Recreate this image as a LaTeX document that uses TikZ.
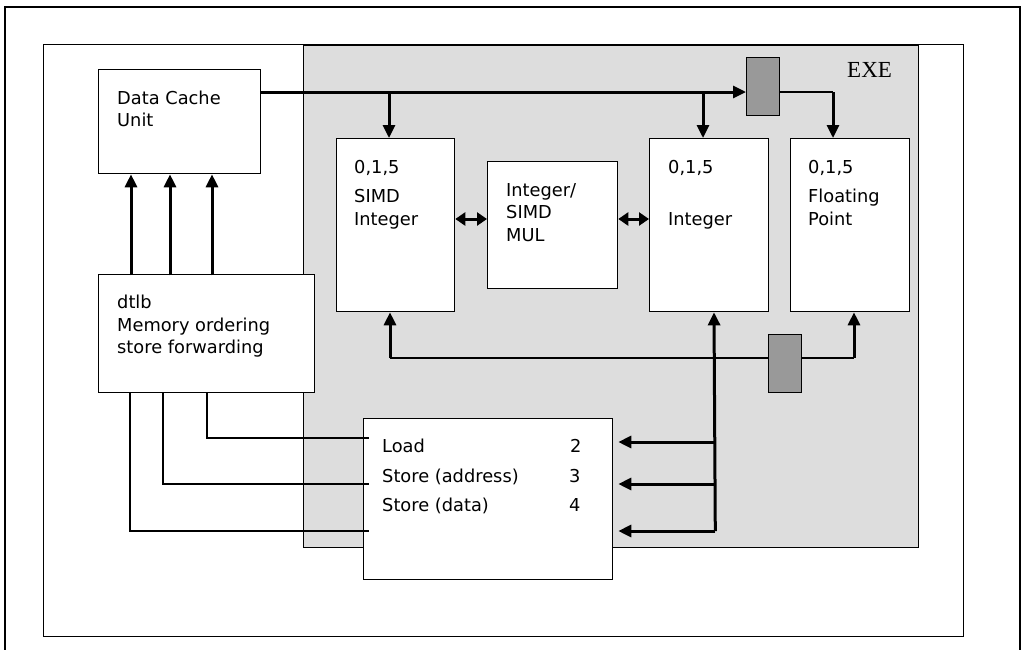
\documentclass[tikz,border=0pt]{standalone}
\usepackage{fontspec}
\setmainfont{DejaVu Sans}
\newfontfamily\exefont{Liberation Serif}
\usetikzlibrary{arrows.meta,calc}
\definecolor{exegray}{HTML}{DDDDDD}
\definecolor{reggray}{HTML}{999999}
\begin{document}
\begin{tikzpicture}[x=1pt,y=-1pt,
  box/.style={draw, fill=white, line width=1.3pt, rectangle, inner sep=0pt, anchor=north west},
  regbox/.style={draw, fill=reggray, line width=1.3pt, rectangle, inner sep=0pt, anchor=north west},
  thinln/.style={line width=1.4pt},
  thickln/.style={line width=3pt},
  arr/.style={-{Triangle[length=13pt,width=12pt]}},
  darr/.style={{Triangle[length=10pt,width=13pt]}-{Triangle[length=10pt,width=13pt]}},
  lbl/.style={anchor=base west, inner sep=0pt, font=\fontsize{17.8}{20}\selectfont},
]
\fill[white] (0,0) rectangle (1023,649);
\useasboundingbox (0,0) rectangle (1023,649);
% outer frame
\draw[line width=2.4pt] (5,652) -- (5,7) -- (1020,7) -- (1020,652);
% inner frame and EXE area
\node[box, minimum width=920pt, minimum height=592pt] (inner) at (43,44) {};
\node[box, fill=exegray, minimum width=615pt, minimum height=502pt] (exe) at (303,45) {};
\node[anchor=base west, inner sep=0pt, font=\exefont\fontsize{23}{26}\selectfont] (exel) at (847,77) {EXE};
% boxes
\node[box, minimum width=162pt, minimum height=104pt] (dcu) at (98,69) {};
\node[box, minimum width=216pt, minimum height=118pt] (dtlb) at (98,274) {};
\node[box, minimum width=118pt, minimum height=173pt] (simd) at (336,138) {};
\node[box, minimum width=130pt, minimum height=127pt] (mul) at (487,161) {};
\node[box, minimum width=119pt, minimum height=173pt] (intg) at (649,138) {};
\node[box, minimum width=119pt, minimum height=173pt] (fp) at (790,138) {};
\node[box, minimum width=249pt, minimum height=161pt] (ls) at (363,418) {};
\node[regbox, minimum width=33pt, minimum height=58pt] (reg1) at (746,57) {};
\node[regbox, minimum width=33pt, minimum height=58pt] (reg2) at (768,334) {};
% labels
\node[lbl] (t1) at (117,104) {Data Cache};
\node[lbl] (t2) at (117,126) {Unit};
\node[lbl] (t3) at (117,308) {dtlb};
\node[lbl] (t4) at (117,331) {Memory ordering};
\node[lbl] (t5) at (117,353) {store forwarding};
\node[lbl] (t6) at (354,173) {0,1,5};
\node[lbl] (t7) at (354,202) {SIMD};
\node[lbl] (t8) at (354,225) {Integer};
\node[lbl] (t9) at (506,196) {Integer/};
\node[lbl] (t10) at (506,218) {SIMD};
\node[lbl] (t11) at (506,241) {MUL};
\node[lbl] (t12) at (668,173) {0,1,5};
\node[lbl] (t13) at (668,225) {Integer};
\node[lbl] (t14) at (808,173) {0,1,5};
\node[lbl] (t15) at (808,202) {Floating};
\node[lbl] (t16) at (808,225) {Point};
\node[lbl] (t17) at (382,452) {Load};
\node[lbl] (t18) at (382,482) {Store (address)};
\node[lbl] (t19) at (382,511) {Store (data)};
\node[lbl] (t20) at (570,452) {2};
\node[lbl] (t21) at (569,482) {3};
\node[lbl] (t22) at (569,511) {4};
% top bus
\coordinate (b0) at ($(dcu.north east)+(0,23)$);
\coordinate (s1) at ($(simd.north west)+(53,0)$);
\coordinate (i1) at ($(intg.north west)+(54,0)$);
\coordinate (f1) at ($(fp.north west)+(43,0)$);
\draw[thickln,arr] (b0) -- (b0 -| reg1.west);
\draw[thickln,arr] (s1 |- b0) -- (s1);
\draw[thickln,arr] (i1 |- b0) -- (i1);
\draw[thinln] (reg1.east |- b0) -- (f1 |- b0);
\draw[thickln,arr] (f1 |- b0) -- (f1);
% double arrows
\draw[thickln,darr] ($(simd.north east)+(0,81)$) -- ($(mul.north west)+(0,58)$);
\draw[thickln,darr] ($(mul.north east)+(0,58)$) -- ($(intg.north west)+(0,81)$);
% bottom bus
\coordinate (b1) at ($(reg2.north west)+(0,24)$);
\coordinate (s2) at ($(simd.south west)+(54,0)$);
\coordinate (i2) at ($(intg.south west)+(65,0)$);
\coordinate (f2) at ($(fp.south west)+(64,0)$);
\draw[thinln] (s2 |- b1) -- (reg2.west |- b1);
\draw[thinln] (reg2.east |- b1) -- (f2 |- b1);
\draw[thickln,arr] (s2 |- b1) -- (s2);
\draw[thickln,arr] (f2 |- b1) -- (f2);
\coordinate (l3) at ($(ls.north east)+(102,113)$);
\draw[thickln,arr] (l3) -- (i2);
\foreach \d in {24,66,113}
  \draw[thickln,arr] ($(ls.north east)+(102,\d)$) -- ($(ls.north east)+(5,\d)$);
% dtlb to data cache
\foreach \d in {33,72,114}
  \draw[thickln,arr] ($(dcu.south west)+(\d,0)$) ++(0,101) -- ($(dcu.south west)+(\d,0)$);
% dtlb to load/store
\draw[thinln] ($(dtlb.south west)+(109,0)$) |- ($(ls.north west)+(6,20)$);
\draw[thinln] ($(dtlb.south west)+(65,0)$) |- ($(ls.north west)+(6,66)$);
\draw[thinln] ($(dtlb.south west)+(32,0)$) |- ($(ls.north west)+(6,113)$);
\end{tikzpicture}
\end{document}
